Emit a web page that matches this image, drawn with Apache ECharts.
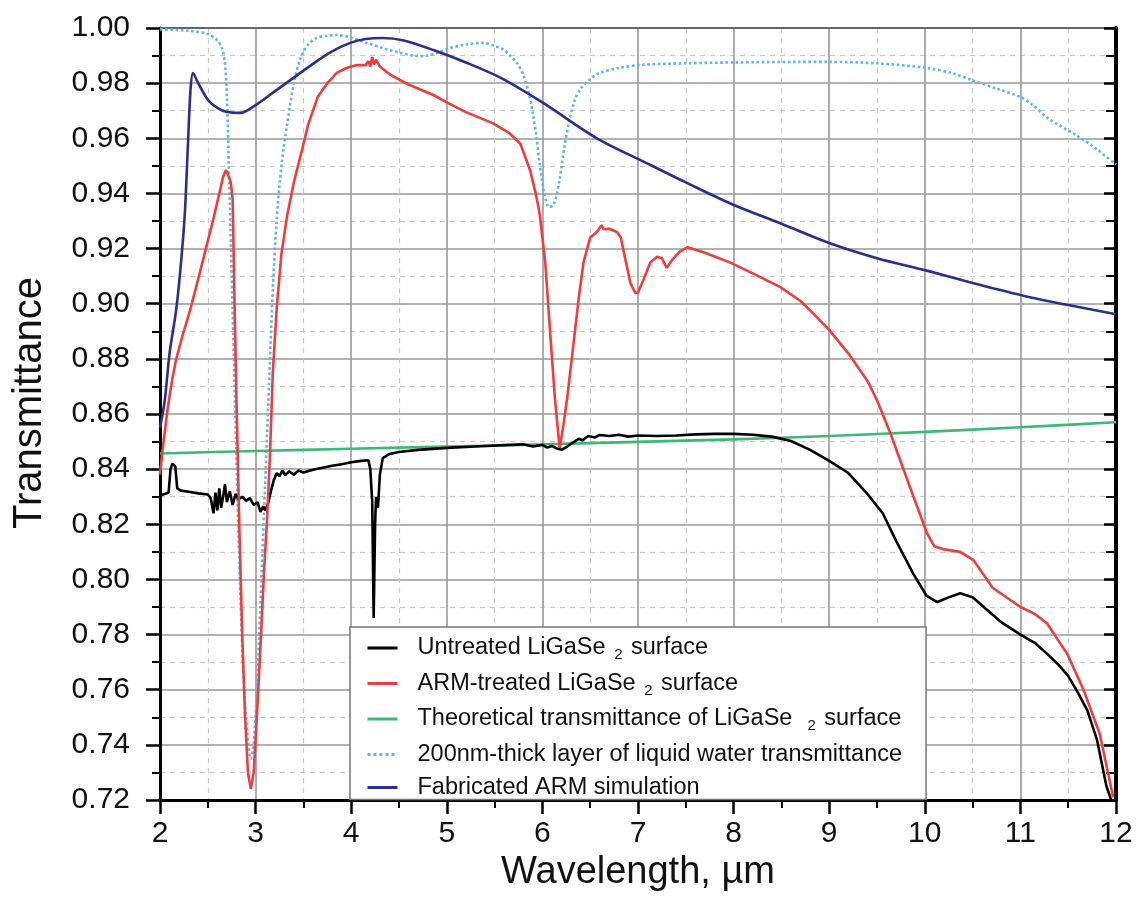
<!DOCTYPE html>
<html lang="en">

<head>
    <meta charset="UTF-8">
    <title>Transmittance</title>
    <script src="https://cdn.jsdelivr.net/npm/echarts@6/dist/echarts.min.js"></script>
    <style>
        body { margin: 0; background: #fff; }
        #chart { width: 1139px; height: 899px; }
    </style>
</head>

<body>
    <div id="chart"></div>
    <script>
        // untreated surface (black)
        const untreatedX = [2.00, 2.05, 2.09, 2.11, 2.13, 2.16, 2.18, 2.22, 2.30, 2.40, 2.50, 2.53, 2.56, 2.58, 2.60, 2.62, 2.64, 2.66, 2.68, 2.70,
            2.73, 2.76, 2.79, 2.82, 2.86, 2.90, 2.94, 2.98, 3.02, 3.05, 3.08, 3.10, 3.13, 3.16, 3.19, 3.22, 3.25, 3.28, 3.31, 3.35,
            3.40, 3.45, 3.50, 3.60, 3.70, 3.80, 3.90, 4.00, 4.10, 4.18, 4.20, 4.22, 4.235, 4.25, 4.26, 4.28, 4.30, 4.33, 4.40, 4.50,
            4.70, 5.00, 5.30, 5.60, 5.80, 5.90, 6.00, 6.05, 6.10, 6.15, 6.20, 6.25, 6.30, 6.38, 6.42, 6.48, 6.55, 6.60, 6.70, 6.80,
            6.90, 7.00, 7.20, 7.40, 7.60, 7.80, 8.00, 8.20, 8.40, 8.60, 8.80, 9.00, 9.20, 9.40, 9.56, 9.70, 9.88, 10.02, 10.13, 10.25,
            10.37, 10.50, 10.65, 10.80, 11.00, 11.15, 11.28, 11.40, 11.50, 11.60, 11.70, 11.80, 11.90, 11.95];
        const untreatedY = [0.8305, 0.8310, 0.8315, 0.8400, 0.8420, 0.8410, 0.8330, 0.8322, 0.8318, 0.8312, 0.8308, 0.8295, 0.8240, 0.8315, 0.8250, 0.8330, 0.8260, 0.8300, 0.8345, 0.8280,
            0.8320, 0.8270, 0.8310, 0.8290, 0.8300, 0.8285, 0.8295, 0.8270, 0.8280, 0.8245, 0.8265, 0.8250, 0.8275, 0.8320, 0.8360, 0.8385, 0.8375, 0.8395, 0.8378, 0.8392,
            0.8380, 0.8395, 0.8388, 0.8398, 0.8405, 0.8412, 0.8418, 0.8425, 0.8430, 0.8432, 0.8400, 0.8280, 0.7860, 0.8200, 0.8300, 0.8260, 0.8380, 0.8440, 0.8455, 0.8462,
            0.8470, 0.8477, 0.8482, 0.8487, 0.8490, 0.8482, 0.8488, 0.8478, 0.8484, 0.8475, 0.8470, 0.8480, 0.8492, 0.8510, 0.8505, 0.8520, 0.8515, 0.8524, 0.8520, 0.8525,
            0.8518, 0.8522, 0.8520, 0.8522, 0.8526, 0.8528, 0.8528, 0.8525, 0.8518, 0.8502, 0.8470, 0.8430, 0.8386, 0.8310, 0.8240, 0.8140, 0.8020, 0.7940, 0.7918, 0.7935,
            0.7950, 0.7935, 0.7890, 0.7845, 0.7800, 0.7770, 0.7730, 0.7690, 0.7650, 0.7590, 0.7525, 0.7420, 0.7250, 0.7200];

        // ARM-treated surface (red)
        const treatedX = [2.00, 2.03, 2.08, 2.13, 2.17, 2.24, 2.31, 2.40, 2.48, 2.56, 2.62, 2.66, 2.69, 2.71, 2.74, 2.76, 2.78, 2.80, 2.83, 2.86,
            2.89, 2.92, 2.95, 2.98, 3.01, 3.05, 3.09, 3.12, 3.15, 3.18, 3.22, 3.27, 3.33, 3.40, 3.48, 3.55, 3.65, 3.75, 3.85, 3.95,
            4.06, 4.15, 4.18, 4.20, 4.22, 4.24, 4.26, 4.30, 4.41, 4.60, 4.86, 5.00, 5.20, 5.48, 5.65, 5.77, 5.87, 5.93, 5.97, 6.03,
            6.08, 6.13, 6.18, 6.22, 6.26, 6.32, 6.38, 6.43, 6.50, 6.57, 6.62, 6.64, 6.70, 6.78, 6.82, 6.85, 6.92, 6.97, 7.00, 7.06,
            7.13, 7.20, 7.25, 7.30, 7.36, 7.44, 7.52, 7.70, 7.96, 8.20, 8.49, 8.70, 8.83, 9.00, 9.20, 9.40, 9.50, 9.64, 9.85, 10.02,
            10.10, 10.19, 10.37, 10.51, 10.71, 11.00, 11.15, 11.28, 11.49, 11.66, 11.83, 11.97];
        const treatedY = [0.8380, 0.8480, 0.8620, 0.8730, 0.8800, 0.8890, 0.8970, 0.9090, 0.9200, 0.9310, 0.9400, 0.9460, 0.9485, 0.9470, 0.9440, 0.9380, 0.9000, 0.8650, 0.8190, 0.7800,
            0.7500, 0.7300, 0.7240, 0.7300, 0.7480, 0.7750, 0.8040, 0.8220, 0.8450, 0.8750, 0.8980, 0.9180, 0.9320, 0.9440, 0.9550, 0.9650, 0.9750, 0.9800, 0.9837, 0.9855,
            0.9866, 0.9865, 0.9880, 0.9860, 0.9895, 0.9868, 0.9885, 0.9860, 0.9830, 0.9795, 0.9757, 0.9730, 0.9695, 0.9655, 0.9620, 0.9580, 0.9485, 0.9400, 0.9330, 0.9150,
            0.8900, 0.8660, 0.8477, 0.8560, 0.8660, 0.8840, 0.9020, 0.9150, 0.9240, 0.9260, 0.9285, 0.9270, 0.9272, 0.9260, 0.9240, 0.9190, 0.9075, 0.9040, 0.9040, 0.9090,
            0.9150, 0.9170, 0.9165, 0.9130, 0.9160, 0.9190, 0.9205, 0.9185, 0.9150, 0.9110, 0.9060, 0.9010, 0.8966, 0.8905, 0.8820, 0.8720, 0.8650, 0.8530, 0.8330, 0.8170,
            0.8120, 0.8110, 0.8100, 0.8070, 0.7970, 0.7900, 0.7875, 0.7840, 0.7730, 0.7600, 0.7440, 0.7210];

        // theoretical transmittance (green)
        const theoryX = [2, 3, 4, 5, 6, 7, 8, 9, 10, 11, 12];
        const theoryY = [0.8457, 0.8466, 0.8474, 0.8482, 0.8490, 0.8499, 0.8508, 0.8520, 0.8535, 0.8552, 0.8570];

        // 200nm water layer (dotted light blue)
        const waterX = [2.00, 2.30, 2.50, 2.60, 2.65, 2.68, 2.70, 2.72, 2.75, 2.78, 2.81, 2.84, 2.88, 2.92, 2.95, 2.98, 3.02, 3.06, 3.10, 3.14,
            3.18, 3.22, 3.27, 3.33, 3.40, 3.47, 3.55, 3.64, 3.75, 3.85, 4.00, 4.16, 4.35, 4.51, 4.65, 4.75, 4.90, 5.03, 5.20, 5.38,
            5.50, 5.60, 5.66, 5.74, 5.80, 5.86, 5.90, 5.94, 5.97, 6.02, 6.07, 6.12, 6.18, 6.23, 6.28, 6.34, 6.40, 6.50, 6.60, 6.80,
            7.02, 7.50, 8.00, 8.69, 9.00, 9.50, 10.02, 10.30, 10.50, 10.75, 11.00, 11.13, 11.30, 11.59, 11.80, 12.00];
        const waterY = [0.9995, 0.9990, 0.9978, 0.9955, 0.9925, 0.9870, 0.9750, 0.9500, 0.9100, 0.8700, 0.8300, 0.7950, 0.7600, 0.7420, 0.7350, 0.7400, 0.7650, 0.8000, 0.8350, 0.8700,
            0.9050, 0.9300, 0.9500, 0.9650, 0.9800, 0.9890, 0.9940, 0.9964, 0.9972, 0.9975, 0.9965, 0.9946, 0.9925, 0.9910, 0.9900, 0.9898, 0.9910, 0.9927, 0.9940, 0.9946,
            0.9935, 0.9920, 0.9900, 0.9870, 0.9830, 0.9760, 0.9690, 0.9600, 0.9510, 0.9400, 0.9350, 0.9360, 0.9450, 0.9570, 0.9660, 0.9740, 0.9780, 0.9815, 0.9837, 0.9855,
            0.9866, 0.9872, 0.9875, 0.9877, 0.9877, 0.9872, 0.9855, 0.9835, 0.9810, 0.9780, 0.9750, 0.9720, 0.9670, 0.9610, 0.9560, 0.9505];

        // fabricated ARM simulation (dark blue)
        const simX = [2.00, 2.05, 2.10, 2.17, 2.22, 2.26, 2.29, 2.32, 2.345, 2.40, 2.50, 2.60, 2.70, 2.84, 3.00, 3.20, 3.36, 3.60, 3.80, 3.99,
            4.15, 4.33, 4.55, 4.86, 5.20, 5.56, 6.00, 6.57, 7.09, 7.50, 7.99, 8.50, 9.00, 9.50, 10.02, 10.50, 11.02, 11.50, 12.00];
        const simY = [0.8550, 0.8650, 0.8820, 0.8980, 0.9150, 0.9330, 0.9560, 0.9780, 0.9837, 0.9800, 0.9740, 0.9710, 0.9695, 0.9692, 0.9720, 0.9770, 0.9810, 0.9870, 0.9915, 0.9946,
            0.9960, 0.9964, 0.9955, 0.9920, 0.9875, 0.9820, 0.9730, 0.9600, 0.9510, 0.9440, 0.9360, 0.9290, 0.9220, 0.9165, 0.9120, 0.9075, 0.9030, 0.8995, 0.8962];

        const font = 'Liberation Sans, Arial, sans-serif';

        function pairs(xs, ys) {
            return xs.map((x, i) => [x, ys[i]]);
        }

        const legendText = {
            'Untreated': '{g|}{a|Untreated LiGaSe }{s|2}{a| surface}',
            'ARM-treated': '{g|}{a|ARM-treated LiGaSe }{s|2}{a| surface}',
            'Theoretical': '{g|}{a|Theoretical transmittance of LiGaSe  }{s|2}{a| surface}',
            'Water': '{g|}{a|200nm-thick layer of liquid water transmittance}',
            'Simulation': '{g|}{a|Fabricated ARM simulation}'
        };

        function line(name, color, data, type, smooth) {
            return {
                name: name,
                type: 'line',
                data: data,
                symbol: 'none',
                smooth: smooth || false,
                clip: true,
                lineStyle: { color: color, width: 2.6, type: type || 'solid' },
                itemStyle: { color: color }
            };
        }

        const chart = echarts.init(document.getElementById('chart'));
        chart.setOption({
            backgroundColor: '#fff',
            animation: false,
            grid: { left: 160, right: 23, top: 28, bottom: 99 },
            legend: {
                orient: 'vertical',
                left: 350,
                top: 627,
                itemWidth: 30,
                itemHeight: 14,
                itemGap: 9,
                padding: [9, 24, 0, 16],
                backgroundColor: '#fff',
                borderColor: '#777',
                borderWidth: 1.5,
                itemStyle: { opacity: 0 },
                lineStyle: { width: 3 },
                formatter: name => legendText[name],
                textStyle: {
                    color: '#111',
                    rich: {
                        g: { width: 15 },
                        a: { fontSize: 23.5, fontFamily: font, color: '#111' },
                        s: { fontSize: 15, fontFamily: font, color: '#111', padding: [14, 2, 0, 2] }
                    }
                },
                data: ['Untreated', 'ARM-treated', 'Theoretical', 'Water', 'Simulation']
            },
            xAxis: [{
                type: 'value',
                min: 2,
                max: 12,
                interval: 1,
                name: 'Wavelength, µm',
                nameLocation: 'middle',
                nameGap: 50,
                nameTextStyle: { fontSize: 38, fontFamily: font, color: '#111' },
                axisLine: { lineStyle: { color: '#000', width: 3 } },
                axisTick: { show: true, length: 14, lineStyle: { color: '#000', width: 2.5 } },
                minorTick: { show: true, splitNumber: 2, length: 8, lineStyle: { color: '#000', width: 2 } },
                axisLabel: { fontSize: 30, fontFamily: font, color: '#111', margin: 19 },
                splitLine: { show: true, lineStyle: { color: '#999', width: 1.6 } },
                minorSplitLine: { show: true, lineStyle: { color: '#c8c8c8', width: 1.2, type: [5, 5] } }
            }, {
                type: 'value',
                position: 'top',
                min: 2,
                max: 12,
                interval: 1,
                axisLine: { show: true, lineStyle: { color: '#666', width: 2 } },
                axisTick: { show: false },
                axisLabel: { show: false },
                splitLine: { show: false }
            }],
            yAxis: [{
                type: 'value',
                min: 0.72,
                max: 1.00,
                interval: 0.02,
                name: 'Transmittance',
                nameLocation: 'middle',
                nameGap: 110,
                nameTextStyle: { fontSize: 40, fontFamily: font, color: '#111', padding: [0, 0, 0, 22] },
                axisLine: { show: true, lineStyle: { color: '#000', width: 3 } },
                axisTick: { show: true, length: 14, lineStyle: { color: '#000', width: 2.5 } },
                minorTick: { show: true, splitNumber: 2, length: 8, lineStyle: { color: '#000', width: 2 } },
                axisLabel: {
                    fontSize: 30,
                    fontFamily: font,
                    color: '#111',
                    margin: 30,
                    formatter: v => v.toFixed(2)
                },
                splitLine: { show: true, lineStyle: { color: '#999', width: 1.6 } },
                minorSplitLine: { show: true, lineStyle: { color: '#c8c8c8', width: 1.2, type: [5, 5] } }
            }, {
                type: 'value',
                position: 'right',
                min: 0.72,
                max: 1.00,
                interval: 0.02,
                axisLine: { show: true, lineStyle: { color: '#000', width: 4 } },
                axisTick: { show: true, inside: true, length: 12, lineStyle: { color: '#000', width: 2.5 } },
                minorTick: { show: true, splitNumber: 2, length: 10, lineStyle: { color: '#000', width: 2 } },
                axisLabel: { show: false },
                splitLine: { show: false }
            }],
            series: [
                line('Water', '#5cb6ea', pairs(waterX, waterY), 'dotted', 0.3),
                line('Simulation', '#2a2f8f', pairs(simX, simY), 'solid', 0.3),
                line('Theoretical', '#3cb878', pairs(theoryX, theoryY), 'solid', 0.3),
                line('Untreated', '#000000', pairs(untreatedX, untreatedY)),
                line('ARM-treated', '#ee3d3d', pairs(treatedX, treatedY))
            ]
        });
    </script>
</body>

</html>
